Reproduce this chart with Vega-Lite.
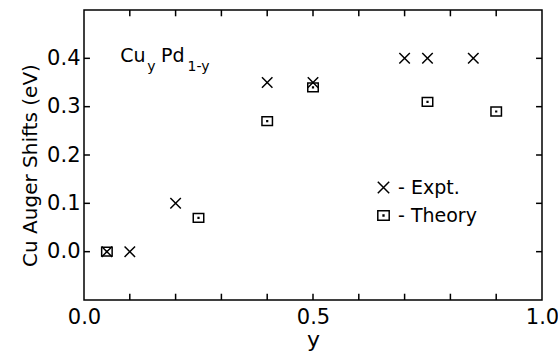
{
  "$schema": "https://vega.github.io/schema/vega-lite/v6.json",
  "width": 458,
  "height": 290,
  "autosize": "none",
  "padding": {"left": 84, "top": 10, "right": 16, "bottom": 56},
  "background": "white",
  "config": {
    "view": {"stroke": "black", "strokeWidth": 1.5},
    "font": "DejaVu Sans",
    "axis": {"grid": false, "domain": false, "ticks": false, "labelColor": "black", "titleColor": "black", "labelFont": "DejaVu Sans", "titleFont": "DejaVu Sans", "titleFontWeight": "normal"}
  },
  "datasets": {
    "pts": [
      {"x": 0.05, "shift": 0.0, "series": "Expt."},
      {"x": 0.10, "shift": 0.0, "series": "Expt."},
      {"x": 0.20, "shift": 0.10, "series": "Expt."},
      {"x": 0.40, "shift": 0.35, "series": "Expt."},
      {"x": 0.50, "shift": 0.35, "series": "Expt."},
      {"x": 0.70, "shift": 0.40, "series": "Expt."},
      {"x": 0.75, "shift": 0.40, "series": "Expt."},
      {"x": 0.85, "shift": 0.40, "series": "Expt."},
      {"x": 0.05, "shift": 0.0, "series": "Theory"},
      {"x": 0.25, "shift": 0.07, "series": "Theory"},
      {"x": 0.40, "shift": 0.27, "series": "Theory"},
      {"x": 0.50, "shift": 0.34, "series": "Theory"},
      {"x": 0.75, "shift": 0.31, "series": "Theory"},
      {"x": 0.90, "shift": 0.29, "series": "Theory"}
    ],
    "xticks": [{"v": 0.1}, {"v": 0.2}, {"v": 0.3}, {"v": 0.4}, {"v": 0.5}, {"v": 0.6}, {"v": 0.7}, {"v": 0.8}, {"v": 0.9}],
    "yticks": [{"v": 0.0}, {"v": 0.1}, {"v": 0.2}, {"v": 0.3}, {"v": 0.4}],
    "main": [
      {"x": 0.079, "shift": 0.404, "t": "Cu"},
      {"x": 0.168, "shift": 0.404, "t": "Pd"}
    ],
    "sub": [
      {"x": 0.138, "shift": 0.382, "t": "y"},
      {"x": 0.226, "shift": 0.382, "t": "1-y"}
    ]
  },
  "layer": [
    {
      "data": {"name": "pts"},
      "mark": {"type": "point", "filled": false, "color": "black", "strokeWidth": 1.5, "size": 110, "opacity": 1},
      "encoding": {
        "x": {"field": "x", "type": "quantitative", "scale": {"domain": [0, 1], "nice": false},
          "axis": {"orient": "bottom", "title": "y", "titleFontSize": 22, "titlePadding": 2,
            "values": [0, 0.5, 1.0],
            "labelPadding": 6, "labelFontSize": 21, "labelFlush": false,
            "labelExpr": "format(datum.value, '.1f')"}},
        "y": {"field": "shift", "type": "quantitative", "scale": {"domain": [-0.1, 0.5], "nice": false, "zero": false},
          "axis": {"orient": "left", "title": "Cu Auger Shifts (eV)", "titleFontSize": 20, "titlePadding": 6, "titleY": 155,
            "values": [0, 0.1, 0.2, 0.3, 0.4],
            "labelPadding": 4, "labelFontSize": 21, "labelFlush": false,
            "labelExpr": "format(datum.value, '.1f')"}},
        "shape": {"field": "series", "type": "nominal",
          "scale": {"domain": ["Expt.", "Theory"], "range": ["M-1,-1L1,1M-1,1L1,-1", "M-1,-0.85H1V0.85H-1Z M-0.07,-0.07H0.07V0.07H-0.07Z"]},
          "legend": {"orient": "none", "legendX": 290, "legendY": 168, "title": null,
            "labelFontSize": 19, "labelFont": "DejaVu Sans", "labelColor": "black",
            "symbolSize": 130, "symbolStrokeWidth": 1.5, "symbolStrokeColor": "black", "symbolFillColor": "transparent",
            "rowPadding": 8, "labelOffset": 5,
            "labelExpr": "'- ' + datum.label"}}
      }
    },
    {
      "mark": {"type": "rule", "color": "black", "strokeWidth": 1.2},
      "encoding": {"y": {"datum": 0, "type": "quantitative", "axis": null}}
    },
    {
      "data": {"name": "xticks"},
      "mark": {"type": "rule", "color": "black", "strokeWidth": 1.5},
      "encoding": {
        "x": {"field": "v", "type": "quantitative", "axis": null},
        "y": {"datum": -0.1, "type": "quantitative", "axis": null},
        "y2": {"datum": -0.087}
      }
    },
    {
      "data": {"name": "xticks"},
      "mark": {"type": "rule", "color": "black", "strokeWidth": 1.5},
      "encoding": {
        "x": {"field": "v", "type": "quantitative", "axis": null},
        "y": {"datum": 0.5, "type": "quantitative", "axis": null},
        "y2": {"datum": 0.487}
      }
    },
    {
      "data": {"name": "yticks"},
      "mark": {"type": "rule", "color": "black", "strokeWidth": 1.5},
      "encoding": {
        "y": {"field": "v", "type": "quantitative", "axis": null},
        "x": {"datum": 0, "type": "quantitative", "axis": null},
        "x2": {"datum": 0.013}
      }
    },
    {
      "data": {"name": "yticks"},
      "mark": {"type": "rule", "color": "black", "strokeWidth": 1.5},
      "encoding": {
        "y": {"field": "v", "type": "quantitative", "axis": null},
        "x": {"datum": 1, "type": "quantitative", "axis": null},
        "x2": {"datum": 0.987}
      }
    },
    {
      "data": {"name": "main"},
      "mark": {"type": "text", "align": "left", "baseline": "middle", "fontSize": 19, "color": "black"},
      "encoding": {
        "x": {"field": "x", "type": "quantitative", "axis": null},
        "y": {"field": "shift", "type": "quantitative", "axis": null},
        "text": {"field": "t"}
      }
    },
    {
      "data": {"name": "sub"},
      "mark": {"type": "text", "align": "left", "baseline": "middle", "fontSize": 14, "color": "black"},
      "encoding": {
        "x": {"field": "x", "type": "quantitative", "axis": null},
        "y": {"field": "shift", "type": "quantitative", "axis": null},
        "text": {"field": "t"}
      }
    }
  ],
  "resolve": {"axis": {"x": "independent", "y": "independent"}}
}
